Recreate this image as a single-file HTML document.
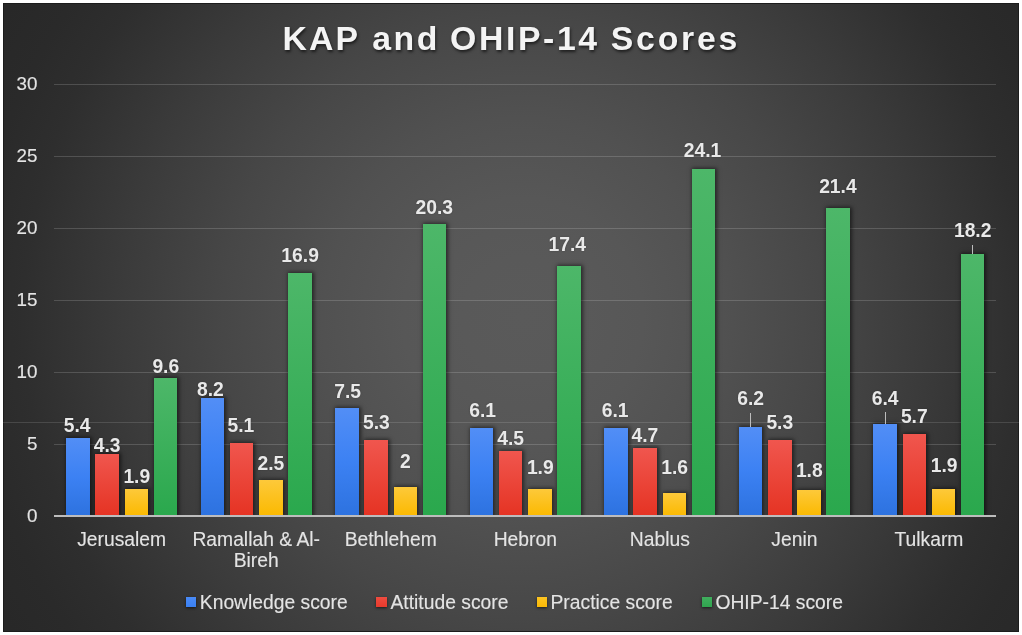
<!DOCTYPE html>
<html><head><meta charset="utf-8"><title>KAP and OHIP-14 Scores</title>
<style>
html,body{margin:0;padding:0;background:#fff;}
body{width:1022px;height:635px;overflow:hidden;position:relative;font-family:"Liberation Sans",sans-serif;}
#chart{position:absolute;left:3px;top:3px;width:1016px;height:629px;background:radial-gradient(circle 600px at 520px 315px, rgb(90,90,90) 0px, rgb(89,89,89) 60px, rgb(87,87,87) 120px, rgb(81,81,81) 200px, rgb(71,71,71) 300px, rgb(59,59,59) 400px, rgb(46,46,46) 500px, rgb(42,42,42) 550px, rgb(40,40,40) 600px);overflow:hidden;box-shadow:inset 0 0 0 1px #1c1c1c;}
#in{position:absolute;left:-3px;top:-3px;width:1022px;height:635px;}
.t{position:absolute;left:0;width:1022px;height:40px;top:18.1px;font-weight:bold;font-size:33.8px;line-height:40px;color:#f4f4f4;text-shadow:1px 1.5px 3px rgba(0,0,0,.6);white-space:nowrap;}
.t span{position:absolute;top:0;}
.gl{position:absolute;height:1.5px;background:rgba(255,255,255,.16);}
.xl{position:absolute;left:3px;width:1016px;top:422.1px;height:1px;background:rgba(255,255,255,.13);}
.ax{position:absolute;height:2px;background:#bdbdbd;}
.yl{position:absolute;width:40px;text-align:right;font-size:18.8px;line-height:22px;color:#e4e4e4;-webkit-text-stroke:0.12px #e4e4e4;}
.bar{position:absolute;box-shadow:1px 0 4px 1px rgba(0,0,0,.55);}
.b{background:linear-gradient(#528ef6 0%,#3c81f3 50%,#2d72df 100%);}
.r{background:linear-gradient(#f0564e,#e53323);}
.y{background:linear-gradient(#fdc93a,#fbb900);}
.g{background:linear-gradient(#4db769,#2aa84d);}
.dl{position:absolute;width:60px;text-align:center;font-weight:bold;font-size:19.3px;line-height:20px;color:#e9e9e9;text-shadow:0 0 2px rgba(0,0,0,.25);}
.cl{position:absolute;text-align:center;font-size:19.3px;line-height:21.3px;color:#e4e4e4;-webkit-text-stroke:0.12px #e4e4e4;}
.lg{position:absolute;font-size:19.3px;line-height:22px;color:#e4e4e4;-webkit-text-stroke:0.12px #e4e4e4;white-space:nowrap;}
.sq{position:absolute;width:10.2px;height:9.9px;box-shadow:0 1px 3px rgba(0,0,0,.6);}
.ld{position:absolute;width:1px;background:#bdbdbd;}
.sq.b{background:linear-gradient(#4a8bf7,#3a80f2);}.sq.r{background:linear-gradient(#ee4c40,#e83a2c);}.sq.y{background:linear-gradient(#fcc422,#fab906);}.sq.g{background:linear-gradient(#40ae5e,#30a44f);}
</style></head><body><div id="chart"><div id="in">
<div class="t"><span style="left:282.6px;letter-spacing:2.0px">KAP</span> <span style="left:372.2px;letter-spacing:2.55px">and</span> <span style="left:450.0px;letter-spacing:2.6px">OHIP-14</span> <span style="left:610.8px;letter-spacing:2.75px">Scores</span></div>
<div class="xl"></div>

<div class="yl" style="left:-2.5px;top:505.30px">0</div>
<div class="gl" style="left:54.4px;width:941.8px;top:443.75px"></div>
<div class="yl" style="left:-2.5px;top:433.30px">5</div>
<div class="gl" style="left:54.4px;width:941.8px;top:371.75px"></div>
<div class="yl" style="left:-2.5px;top:361.30px">10</div>
<div class="gl" style="left:54.4px;width:941.8px;top:299.75px"></div>
<div class="yl" style="left:-2.5px;top:289.30px">15</div>
<div class="gl" style="left:54.4px;width:941.8px;top:227.75px"></div>
<div class="yl" style="left:-2.5px;top:217.30px">20</div>
<div class="gl" style="left:54.4px;width:941.8px;top:155.75px"></div>
<div class="yl" style="left:-2.5px;top:145.30px">25</div>
<div class="gl" style="left:54.4px;width:941.8px;top:83.75px"></div>
<div class="yl" style="left:-2.5px;top:73.30px">30</div>
<div id="plot" style="position:absolute;left:0;top:0;width:1022px;height:517.0px;overflow:hidden">
<div class="bar b" style="left:66.12px;top:438.34px;width:23.5px;height:78.16px"></div>
<div class="bar r" style="left:95.32px;top:454.18px;width:23.5px;height:62.32px"></div>
<div class="bar y" style="left:124.52px;top:488.74px;width:23.5px;height:27.76px"></div>
<div class="bar g" style="left:153.72px;top:377.86px;width:23.5px;height:138.64px"></div>
<div class="bar b" style="left:200.66px;top:398.02px;width:23.5px;height:118.48px"></div>
<div class="bar r" style="left:229.86px;top:442.66px;width:23.5px;height:73.84px"></div>
<div class="bar y" style="left:259.06px;top:480.10px;width:23.5px;height:36.40px"></div>
<div class="bar g" style="left:288.26px;top:272.74px;width:23.5px;height:243.76px"></div>
<div class="bar b" style="left:335.21px;top:408.10px;width:23.5px;height:108.40px"></div>
<div class="bar r" style="left:364.41px;top:439.78px;width:23.5px;height:76.72px"></div>
<div class="bar y" style="left:393.61px;top:487.30px;width:23.5px;height:29.20px"></div>
<div class="bar g" style="left:422.81px;top:223.78px;width:23.5px;height:292.72px"></div>
<div class="bar b" style="left:469.75px;top:428.26px;width:23.5px;height:88.24px"></div>
<div class="bar r" style="left:498.95px;top:451.30px;width:23.5px;height:65.20px"></div>
<div class="bar y" style="left:528.15px;top:488.74px;width:23.5px;height:27.76px"></div>
<div class="bar g" style="left:557.35px;top:265.54px;width:23.5px;height:250.96px"></div>
<div class="bar b" style="left:604.29px;top:428.26px;width:23.5px;height:88.24px"></div>
<div class="bar r" style="left:633.49px;top:448.42px;width:23.5px;height:68.08px"></div>
<div class="bar y" style="left:662.69px;top:493.06px;width:23.5px;height:23.44px"></div>
<div class="bar g" style="left:691.89px;top:169.06px;width:23.5px;height:347.44px"></div>
<div class="bar b" style="left:738.84px;top:426.82px;width:23.5px;height:89.68px"></div>
<div class="bar r" style="left:768.04px;top:439.78px;width:23.5px;height:76.72px"></div>
<div class="bar y" style="left:797.24px;top:490.18px;width:23.5px;height:26.32px"></div>
<div class="bar g" style="left:826.44px;top:207.94px;width:23.5px;height:308.56px"></div>
<div class="bar b" style="left:873.38px;top:423.94px;width:23.5px;height:92.56px"></div>
<div class="bar r" style="left:902.58px;top:434.02px;width:23.5px;height:82.48px"></div>
<div class="bar y" style="left:931.78px;top:488.74px;width:23.5px;height:27.76px"></div>
<div class="bar g" style="left:960.98px;top:254.02px;width:23.5px;height:262.48px"></div>
</div>
<div class="ax" style="left:54.4px;width:941.8px;top:514.90px"></div>
<div class="ld" style="left:750.10px;top:413.10px;height:14.10px"></div>
<div class="ld" style="left:884.50px;top:412.00px;height:12.30px"></div>
<div class="ld" style="left:971.70px;top:244.50px;height:9.90px"></div>
<div class="dl" id="d00" style="left:47.10px;top:415.85px">5.4</div>
<div class="dl" id="d01" style="left:77.10px;top:435.75px">4.3</div>
<div class="dl" id="d02" style="left:106.80px;top:466.85px">1.9</div>
<div class="dl" id="d03" style="left:135.80px;top:357.25px">9.6</div>
<div class="dl" id="d10" style="left:180.40px;top:379.75px">8.2</div>
<div class="dl" id="d11" style="left:210.90px;top:415.75px">5.1</div>
<div class="dl" id="d12" style="left:240.85px;top:453.65px">2.5</div>
<div class="dl" id="d13" style="left:270.10px;top:246.45px">16.9</div>
<div class="dl" id="d20" style="left:317.70px;top:381.55px">7.5</div>
<div class="dl" id="d21" style="left:346.40px;top:413.15px">5.3</div>
<div class="dl" id="d22" style="left:375.30px;top:452.15px">2</div>
<div class="dl" id="d23" style="left:404.30px;top:197.55px">20.3</div>
<div class="dl" id="d30" style="left:452.70px;top:401.45px">6.1</div>
<div class="dl" id="d31" style="left:480.60px;top:428.85px">4.5</div>
<div class="dl" id="d32" style="left:510.30px;top:457.95px">1.9</div>
<div class="dl" id="d33" style="left:537.30px;top:234.85px">17.4</div>
<div class="dl" id="d40" style="left:585.10px;top:401.45px">6.1</div>
<div class="dl" id="d41" style="left:614.90px;top:426.00px">4.7</div>
<div class="dl" id="d42" style="left:644.70px;top:457.95px">1.6</div>
<div class="dl" id="d43" style="left:672.50px;top:140.75px">24.1</div>
<div class="dl" id="d50" style="left:720.60px;top:389.45px">6.2</div>
<div class="dl" id="d51" style="left:749.80px;top:412.75px">5.3</div>
<div class="dl" id="d52" style="left:779.30px;top:460.65px">1.8</div>
<div class="dl" id="d53" style="left:807.90px;top:177.25px">21.4</div>
<div class="dl" id="d60" style="left:855.20px;top:388.55px">6.4</div>
<div class="dl" id="d61" style="left:884.30px;top:407.35px">5.7</div>
<div class="dl" id="d62" style="left:914.10px;top:455.85px">1.9</div>
<div class="dl" id="d63" style="left:942.70px;top:221.25px">18.2</div>
<div class="cl" style="left:56.40px;width:130.54px;top:528.6px">Jerusalem</div>
<div class="cl" style="left:190.94px;width:130.54px;top:528.6px">Ramallah &amp; Al-Bireh</div>
<div class="cl" style="left:325.49px;width:130.54px;top:528.6px">Bethlehem</div>
<div class="cl" style="left:460.03px;width:130.54px;top:528.6px">Hebron</div>
<div class="cl" style="left:594.57px;width:130.54px;top:528.6px">Nablus</div>
<div class="cl" style="left:729.11px;width:130.54px;top:528.6px">Jenin</div>
<div class="cl" style="left:863.66px;width:130.54px;top:528.6px">Tulkarm</div>
<div class="sq b" style="left:185.9px;top:597.2px"></div><div class="lg" style="left:199.8px;top:591.5px">Knowledge score</div>
<div class="sq r" style="left:376.4px;top:597.2px"></div><div class="lg" style="left:390.5px;top:591.5px">Attitude score</div>
<div class="sq y" style="left:537.0px;top:597.2px"></div><div class="lg" style="left:550.5px;top:591.5px">Practice score</div>
<div class="sq g" style="left:702.0px;top:597.2px"></div><div class="lg" style="left:715.4px;top:591.5px">OHIP-14 score</div>
</div></div></body></html>
